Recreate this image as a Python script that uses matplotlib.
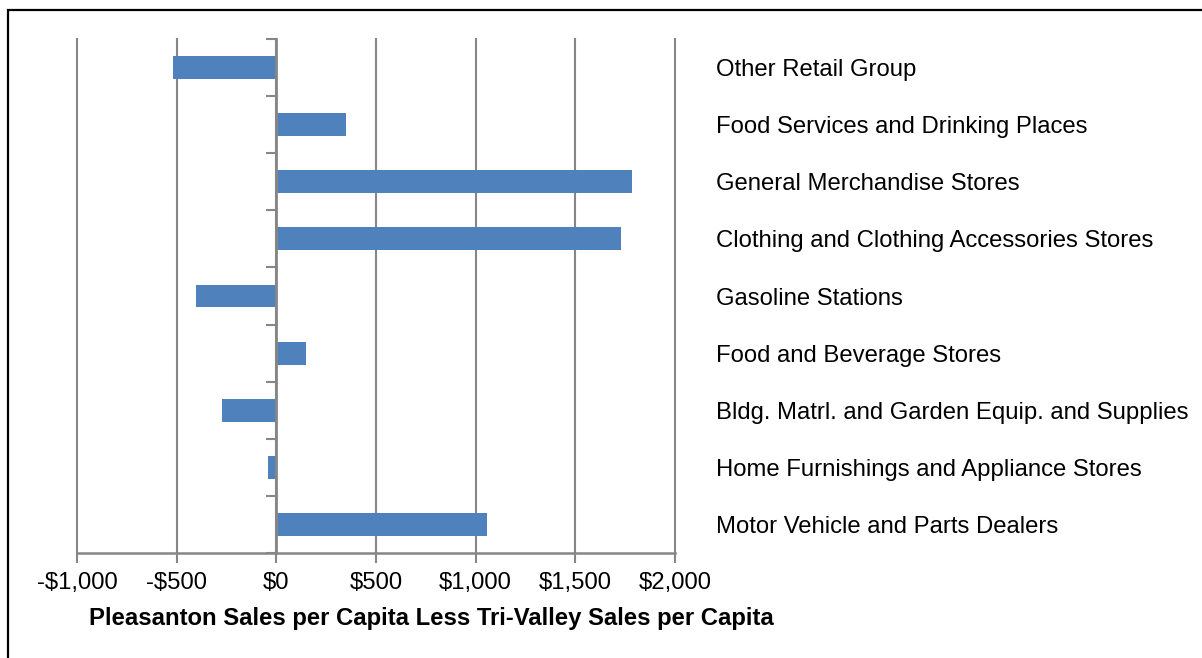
import matplotlib
matplotlib.use('Agg')
import matplotlib.pyplot as plt
from matplotlib.patches import Rectangle
from matplotlib.ticker import FuncFormatter, FixedLocator
import numpy as np

plt.rcParams['font.family'] = ['Liberation Sans', 'DejaVu Sans']

# bottom to top
categories = [
    "Motor Vehicle and Parts Dealers",
    "Home Furnishings and Appliance Stores",
    "Bldg. Matrl. and Garden Equip. and Supplies",
    "Food and Beverage Stores",
    "Gasoline Stations",
    "Clothing and Clothing Accessories Stores",
    "General Merchandise Stores",
    "Food Services and Drinking Places",
    "Other Retail Group",
]
diff_per_capita = [1059, -44, -275, 151, -403, 1730, 1782, 348, -519]
x_ticks = [-1000, -500, 0, 500, 1000, 1500, 2000]

GRID = '#868686'
BAR = '#4F81BD'
FS = 17.2

fig = plt.figure(figsize=(12.02, 6.58), dpi=100)
ax = fig.add_axes([77/1202, 1-553/658, (675-77)/1202, (553-39)/658])

y = np.arange(len(categories))
ax.barh(y, diff_per_capita, height=0.4, color=BAR, zorder=3)

ax.set_xlim(-1000, 2000)
ax.set_ylim(-0.5, len(categories) - 0.5)
ax.set_xticks(x_ticks)
ax.xaxis.set_major_formatter(FuncFormatter(
    lambda v, p: ('-$' if v < 0 else '$') + f"{abs(int(v)):,}"))
ax.tick_params(axis='x', length=7, width=1.5, color=GRID, labelsize=FS, pad=7)
ax.grid(axis='x', color=GRID, lw=1.5, zorder=1)
for gl in ax.get_xgridlines():
    gl.set_clip_on(False)

# category axis sits at zero, labels on the right
ax.spines['left'].set_position(('data', 0))
ax.spines['left'].set_color(GRID)
ax.spines['left'].set_linewidth(2)
ax.spines['left'].set_zorder(4)
ax.spines['bottom'].set_color(GRID)
ax.spines['bottom'].set_linewidth(1.8)
ax.spines['right'].set_visible(False)
ax.spines['top'].set_visible(False)

ax.set_yticks(y)
ax.set_yticklabels(categories)
ax.yaxis.set_minor_locator(FixedLocator(np.arange(-0.5, len(categories), 1.0)))
ax.tick_params(axis='y', which='major', left=False, right=False, length=0,
               labelleft=False, labelright=True, labelsize=FS, pad=29.5)
ax.tick_params(axis='y', which='minor', left=True, right=False,
               length=7, width=1.5, color=GRID)
for lbl in ax.get_yticklabels():
    lbl.set_horizontalalignment('left')

fig.text(431/1202, 1-618/658,
         "Pleasanton Sales per Capita Less Tri-Valley Sales per Capita",
         ha='center', va='center', fontsize=FS, fontweight='bold')

# outer chart frame
fig.patches.append(Rectangle((8/1202, -0.1), 1.2, 0.1 + 1-10/658,
                             transform=fig.transFigure, fill=False,
                             edgecolor='black', lw=1.6))

fig.savefig('out.png', dpi=100)
